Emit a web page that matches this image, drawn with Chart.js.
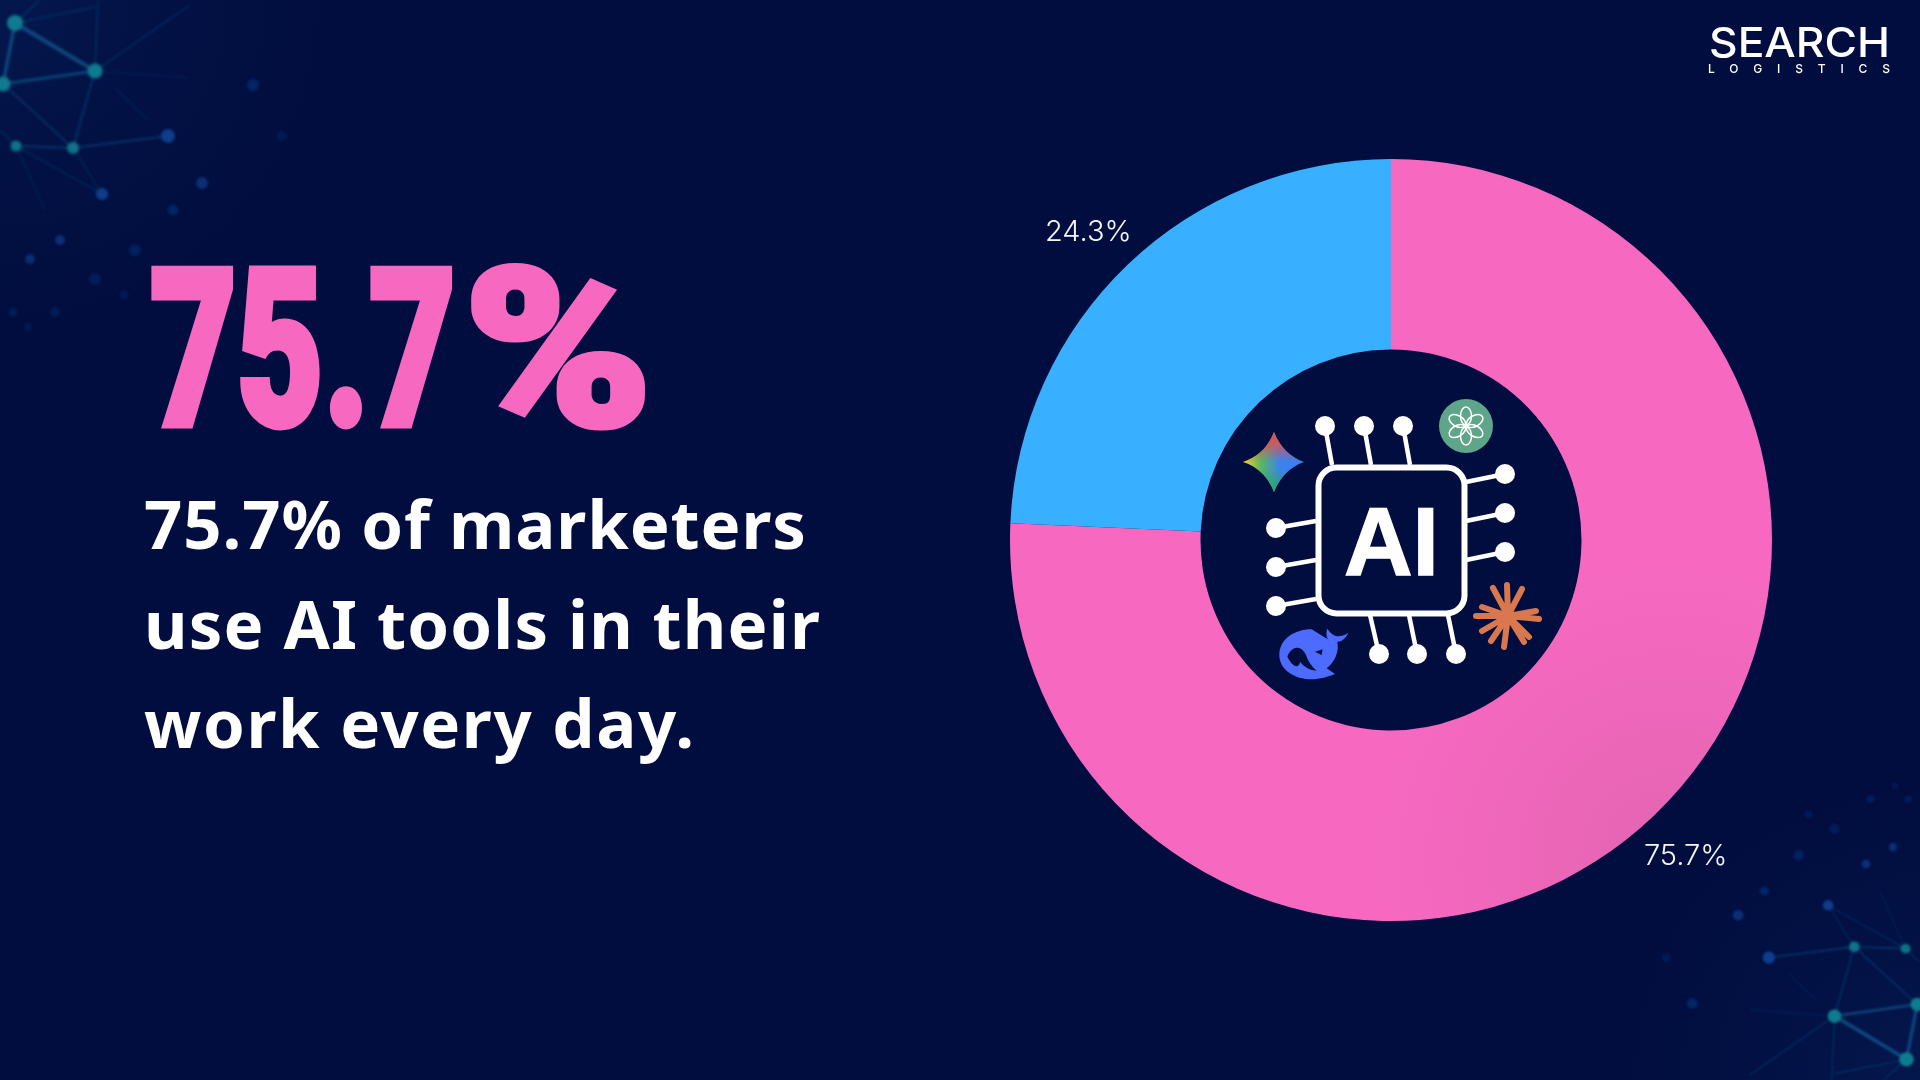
<!DOCTYPE html>
<html>
<head>
<meta charset="utf-8">
<title>75.7% of marketers use AI tools</title>
<script src="https://cdn.jsdelivr.net/npm/chart.js@4"></script>
<style>
  html,body{margin:0;padding:0;width:1920px;height:1080px;overflow:hidden;background:#010d3e;}
  svg{position:absolute;left:0;top:0;}
  #ringWrap{position:absolute;left:911px;top:60px;width:960px;height:960px;}
</style>
</head>
<body>

<!-- corner network decoration -->
<svg width="1920" height="1080">
  <defs>
    <filter id="soft" x="-20%" y="-20%" width="140%" height="140%"><feGaussianBlur stdDeviation="1.4"/></filter>
    <radialGradient id="cornerGlow" gradientUnits="userSpaceOnUse" cx="0" cy="0" r="340">
      <stop offset="0" stop-color="#0b2f70" stop-opacity=".3"/>
      <stop offset=".55" stop-color="#0b2f70" stop-opacity=".1"/>
      <stop offset="1" stop-color="#0b2f70" stop-opacity="0"/>
    </radialGradient>
    <g id="net">
      <circle cx="0" cy="0" r="340" fill="url(#cornerGlow)"/>
      <g filter="url(#soft)">
        <g stroke="#135a92" fill="none">
          <path d="M15 23L95 71" stroke-width="4" opacity=".75"/>
          <path d="M15 23L3 84" stroke-width="3.5" opacity=".75"/>
          <path d="M3 84L95 71" stroke-width="3" opacity=".65"/>
          <path d="M15 23L95 7M15 23L40 0M95 71L98 0M95 71L190 5" stroke-width="1.5" opacity=".42"/>
          <path d="M3 84L73 148M95 71L73 148" stroke-width="1.5" opacity=".55"/>
          <path d="M16 146L73 148M73 148L168 136" stroke-width="2" opacity=".5"/>
          <path d="M16 146L102 194M73 148L102 194M0 130L16 146" stroke-width="1.4" opacity=".38"/>
          <path d="M95 71L190 78M115 88L148 120M16 146L45 210" stroke-width="1.2" opacity=".28"/>
        </g>
        <g fill="#0e7c90">
          <circle cx="15" cy="23" r="8"/>
          <circle cx="95" cy="71" r="7.5"/>
          <circle cx="3" cy="84" r="7.5"/>
          <circle cx="16" cy="146" r="5.5" opacity=".9"/>
          <circle cx="73" cy="148" r="6" opacity=".9"/>
        </g>
        <g fill="#0b3d8c">
          <circle cx="168" cy="136" r="7"/>
          <circle cx="102" cy="194" r="6"/>
          <circle cx="202" cy="183" r="6" opacity=".7"/>
          <circle cx="173" cy="210" r="5" opacity=".55"/>
          <circle cx="253" cy="85" r="6" opacity=".5"/>
          <circle cx="282" cy="136" r="5" opacity=".3"/>
          <circle cx="60" cy="240" r="5" opacity=".7"/>
          <circle cx="30" cy="259" r="5" opacity=".65"/>
          <circle cx="135" cy="250" r="6" opacity=".4"/>
          <circle cx="95" cy="279" r="6" opacity=".35"/>
          <circle cx="124" cy="295" r="4.5" opacity=".3"/>
          <circle cx="13" cy="312" r="4.5" opacity=".35"/>
          <circle cx="55" cy="312" r="4.5" opacity=".35"/>
          <circle cx="28" cy="327" r="4" opacity=".25"/>
        </g>
      </g>
    </g>
  </defs>
  <use href="#net"/>
  <use href="#net" transform="translate(1920 1080) rotate(180) scale(.9)"/>
</svg>

<div id="ringWrap"><canvas id="ring" width="960" height="960"></canvas></div>

<!-- headline, body text, logo -->
<svg width="1920" height="1080">
  <g font-family="Roboto" font-weight="900" font-size="219" fill="#f769c1" stroke="#f769c1" stroke-width="7" stroke-linejoin="miter" lengthAdjust="spacingAndGlyphs">
    <text x="150" y="425" textLength="306" lengthAdjust="spacingAndGlyphs">75.7</text>
    <text x="464" y="425" textLength="188" lengthAdjust="spacingAndGlyphs">%</text>
  </g>
  <g font-family="'Noto Sans'" font-weight="700" font-size="67" fill="#ffffff">
    <text x="144" y="549" textLength="662">75.7% of marketers</text>
    <text x="144" y="649" textLength="676">use AI tools in their</text>
    <text x="144" y="748" textLength="550">work every day.</text>
  </g>
  <text x="1709" y="57" font-family="Inter" font-weight="500" font-size="41" fill="#ffffff" textLength="181" lengthAdjust="spacingAndGlyphs">SEARCH</text>
  <text x="1708" y="73" font-family="Inter" font-weight="500" font-size="12" fill="#ffffff" textLength="182">LOGISTICS</text>
</svg>

<!-- chip and tool icons in the hole of the ring -->
<svg width="1920" height="1080">
  <defs>
    <linearGradient id="gemBase" x1="0" y1="0" x2="1" y2="0">
      <stop offset="0" stop-color="#f7cf2d"/>
      <stop offset=".3" stop-color="#58b765"/>
      <stop offset=".6" stop-color="#3b82f0"/>
      <stop offset="1" stop-color="#3b82f0"/>
    </linearGradient>
    <linearGradient id="gemRed" x1="0" y1="0" x2="0" y2="1">
      <stop offset="0" stop-color="#e4504a"/>
      <stop offset=".2" stop-color="#e4504a" stop-opacity=".8"/>
      <stop offset=".5" stop-color="#e4504a" stop-opacity="0"/>
    </linearGradient>
    <linearGradient id="gemGreen" x1="0" y1="1" x2="0" y2="0">
      <stop offset="0" stop-color="#2aa862"/>
      <stop offset=".4" stop-color="#2aa862" stop-opacity="0"/>
    </linearGradient>
    <path id="gemStar" d="M1274 432C1280 447 1290 457 1304 462C1290 467 1280 477 1274 492C1268 477 1258 467 1243 462C1258 457 1268 447 1274 432Z"/>
  </defs>

  <g stroke="#ffffff" stroke-width="4.5" fill="#ffffff">
    <path d="M1325 426L1332 465M1364 426L1371 465M1403 426L1410 465" fill="none"/>
    <path d="M1505 474L1466 482M1505 513L1466 521M1505 552L1466 560" fill="none"/>
    <path d="M1276 528L1316 521M1276 567L1316 560M1276 606L1316 599" fill="none"/>
    <path d="M1379 654L1370 615M1417 654L1409 615M1456 654L1448 615" fill="none"/>
    <g stroke="none">
      <circle cx="1325" cy="426" r="10"/><circle cx="1364" cy="426" r="10"/><circle cx="1403" cy="426" r="10"/>
      <circle cx="1505" cy="474" r="10"/><circle cx="1505" cy="513" r="10"/><circle cx="1505" cy="552" r="10"/>
      <circle cx="1276" cy="528" r="10"/><circle cx="1276" cy="567" r="10"/><circle cx="1276" cy="606" r="10"/>
      <circle cx="1379" cy="654" r="10"/><circle cx="1417" cy="654" r="10"/><circle cx="1456" cy="654" r="10"/>
    </g>
  </g>
  <rect x="1318.5" y="467.5" width="146" height="146" rx="18" fill="#010d3e" stroke="#ffffff" stroke-width="6"/>
  <text x="1344" y="575" font-family="'Liberation Sans'" font-weight="700" font-size="97" fill="#ffffff" stroke="#ffffff" stroke-width="1.5" textLength="95" lengthAdjust="spacingAndGlyphs">AI</text>

  <!-- chatgpt -->
  <circle cx="1466" cy="426" r="27" fill="#5ea58a"/>
  <g transform="translate(1466 426)" fill="none" stroke="#ffffff" stroke-width="1.5">
    <ellipse cy="-10" rx="5.5" ry="9" transform="rotate(0)"/>
    <ellipse cy="-10" rx="5.5" ry="9" transform="rotate(60)"/>
    <ellipse cy="-10" rx="5.5" ry="9" transform="rotate(120)"/>
    <ellipse cy="-10" rx="5.5" ry="9" transform="rotate(180)"/>
    <ellipse cy="-10" rx="5.5" ry="9" transform="rotate(240)"/>
    <ellipse cy="-10" rx="5.5" ry="9" transform="rotate(300)"/>
  </g>

  <!-- gemini -->
  <use href="#gemStar" fill="url(#gemBase)"/>
  <use href="#gemStar" fill="url(#gemRed)"/>
  <use href="#gemStar" fill="url(#gemGreen)"/>

  <!-- claude -->
  <g transform="translate(1508 616)" stroke="#d9784f" stroke-width="6" stroke-linecap="round">
    <path d="M0 0L-1 -31M0 0L14 -27M0 0L28 -5M0 0L31 3M0 0L21 21M0 0L16 26M0 0L-4 31M0 0L-17 25M0 0L-26 15M0 0L-32 0M0 0L-26 -9M0 0L-15 -28"/>
  </g>

  <!-- deepseek -->
  <g transform="translate(1180 340) scale(.3333)">
    <path d="M395 868C340 868 298 900 298 945C298 990 345 1018 395 1018C420 1018 445 1010 465 1002L440 985C465 965 478 935 472 905C485 905 498 895 505 878C490 888 478 890 468 888C458 885 448 875 442 866C438 878 438 888 444 898C430 890 415 880 395 868Z" fill="#4d6bfe"/>
    <path d="M322 950C335 915 365 915 378 945C385 965 395 980 410 992C385 990 370 978 360 965C358 985 340 985 322 950Z" fill="#010d3e"/>
    <path d="M405 935L428 928L425 945Z" fill="#010d3e"/>
  </g>
</svg>

<script>
// chart values
var sliceNames = ["Use AI tools every day", "Do not"];
var sliceValues = [75.7, 24.3];
var sliceColors = ["#f769c1", "#38b0ff"];

/*writes the percentage just outside each slice*/
var outsideLabels = {
  id: "outsideLabels",
  afterDatasetsDraw: function(chart){
    var ctx = chart.ctx;
    var arcs = chart.getDatasetMeta(0).data;
    ctx.save();
    ctx.font = "300 29px Inter";
    ctx.fillStyle = "#f4f6ff";
    ctx.textAlign = "center";
    ctx.textBaseline = "middle";
    arcs.forEach(function(arc, i){
      var p = arc.getProps(["x","y","startAngle","endAngle","outerRadius"], true);
      var mid = (p.startAngle + p.endAngle) / 2;
      var r = p.outerRadius + 51;
      ctx.fillText(sliceValues[i] + "%", p.x + Math.cos(mid) * r - 4, p.y + Math.sin(mid) * r + 4);
    });
    ctx.restore();
  }
};

/*the pink slice gets a little darker near the bottom right corner*/
function pinkShade(context){
  if(context.dataIndex != 0){
    return sliceColors[context.dataIndex];
  }
  var g = context.chart.ctx.createRadialGradient(760, 800, 0, 760, 800, 300);
  g.addColorStop(0, "#e464b2");
  g.addColorStop(1, sliceColors[0]);
  return g;
}

new Chart(document.getElementById("ring"), {
  type: "doughnut",
  data: {
    labels: sliceNames,
    datasets: [{
      data: sliceValues,
      backgroundColor: pinkShade,
      borderWidth: 0
    }]
  },
  options: {
    responsive: false,
    devicePixelRatio: 1,
    animation: false,
    cutout: "50%",
    layout: { padding: 99 },
    plugins: {
      legend: { display: false },
      tooltip: { enabled: false }
    }
  },
  plugins: [outsideLabels]
});
</script>
</body>
</html>
